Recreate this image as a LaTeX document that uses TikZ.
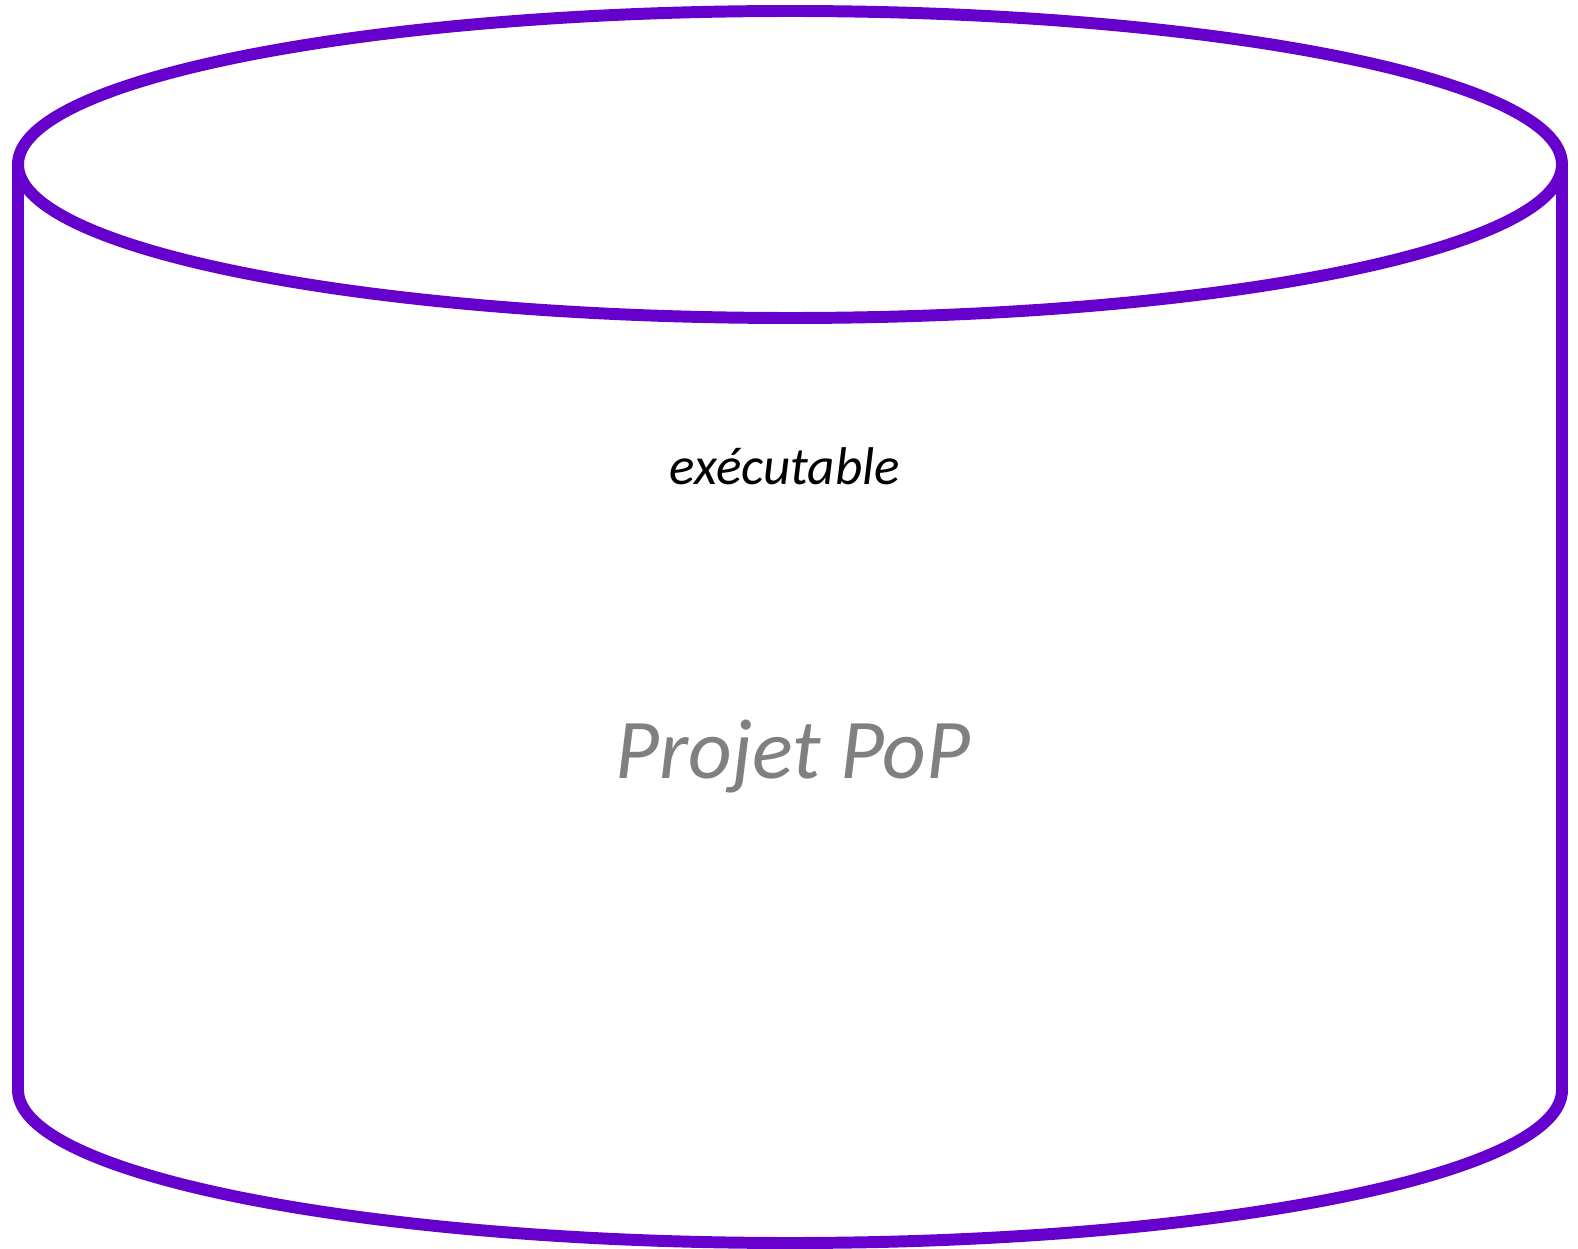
\documentclass[tikz,border=0pt]{standalone}
\usepackage{fontspec}
\setmainfont{Carlito}
\definecolor{cyl}{HTML}{6600CC}
\definecolor{graytext}{HTML}{808080}
\begin{document}
\begin{tikzpicture}[x=0.01cm,y=-0.01cm,
  cylline/.style={draw=cyl,line width=3.4pt,line join=round}]
\useasboundingbox (0,0) rectangle (1578,1249);
% body
\path[cylline] (18,164.5) -- (18,1090) arc[start angle=180,end angle=360,x radius=772,y radius=-153] -- (1562,164.5);
% top ellipse
\path[cylline] (790,164.5) ellipse[x radius=772,y radius=153.5];
\node[anchor=base,inner sep=0pt,font=\fontsize{15.1pt}{18pt}\selectfont\itshape] (exe) at (785,485) {exécutable};
\node[anchor=base,inner sep=0pt,text=graytext,font=\fontsize{24.2pt}{29pt}\selectfont\itshape] (pop) at (793,778) {Projet PoP};
\end{tikzpicture}
\end{document}
